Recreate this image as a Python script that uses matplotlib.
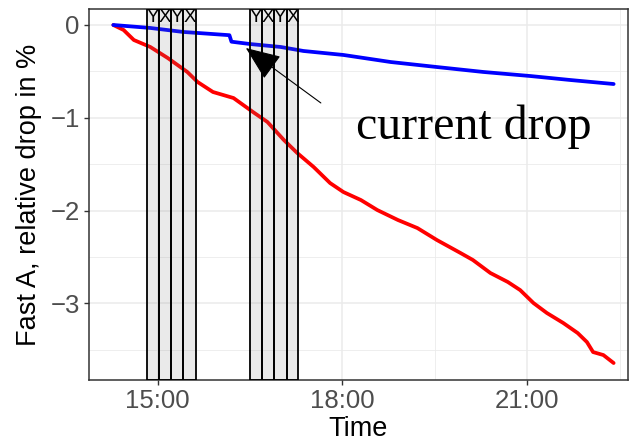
import pandas as pd
import numpy as np
import matplotlib
matplotlib.use("Agg")
import matplotlib.pyplot as plt
import matplotlib.dates as mdates

day = "2020-01-01 "

# red curve
red_time = ["14:17", "14:27", "14:37", "14:53", "15:10", "15:29", "15:39", "15:54",
            "16:14", "16:33", "16:47", "17:03", "17:16", "17:32", "17:48", "18:01",
            "18:18", "18:34", "18:54", "19:13", "19:32", "19:55", "20:07", "20:24",
            "20:41", "20:53", "21:06", "21:19", "21:35", "21:49", "21:58", "22:04",
            "22:14", "22:24"]
red_drop = [0.0, -0.054, -0.162, -0.237, -0.356, -0.506, -0.614, -0.722,
            -0.787, -0.938, -1.045, -1.239, -1.379, -1.530, -1.703, -1.800,
            -1.886, -1.994, -2.101, -2.188, -2.317, -2.457, -2.532, -2.672,
            -2.769, -2.856, -2.996, -3.103, -3.211, -3.319, -3.416, -3.524,
            -3.556, -3.642]

# blue curve
blue_time = ["14:17", "14:53", "15:25", "16:10", "16:12", "16:30", "17:00", "17:22",
             "18:01", "18:47", "19:32", "20:17", "21:03", "21:42", "22:24"]
blue_drop = [0.0, -0.032, -0.075, -0.110, -0.180, -0.205, -0.237, -0.280,
             -0.323, -0.399, -0.453, -0.506, -0.550, -0.593, -0.636]

# shaded intervals
span_start = ["14:50", "15:01", "15:13", "15:25", "16:30", "16:42", "16:53", "17:06"]
span_end = ["15:01", "15:13", "15:25", "15:37", "16:42", "16:53", "17:06", "17:17"]
span_label = ["Y", "X", "Y", "X", "Y", "X", "Y", "X"]

tick_time = ["15:00", "18:00", "21:00"]
minor_time = ["16:30", "19:30", "22:30"]


def tt(s):
    return pd.to_datetime(day + s)


fig = plt.figure(figsize=(6.32, 4.43), dpi=100)
ax = fig.add_axes([0.1403, 0.1422, 0.8534, 0.8368])

sans = "Liberation Sans"
ylo, yhi = -3.825, 0.169

ax.plot([tt(t) for t in red_time], red_drop, color="#ff0000", lw=2.7, zorder=2,
        solid_capstyle="round")
ax.plot([tt(t) for t in blue_time], blue_drop, color="#0000ff", lw=2.7, zorder=2,
        solid_capstyle="round")

for s, e, lab in zip(span_start, span_end, span_label):
    ax.axvspan(tt(s), tt(e), facecolor=(0.5, 0.5, 0.5, 0.16), edgecolor="black",
               lw=1.3, zorder=3)
    mid = tt(s) + (tt(e) - tt(s)) / 2
    ax.text(mid, yhi, lab, ha="center", va="top", fontsize=13.5, family=sans,
            zorder=4)

ax.annotate("", xy=(tt("16:26"), -0.248), xytext=(tt("17:39"), -0.84),
            arrowprops=dict(arrowstyle="-|>,head_length=1.1,head_width=0.45",
                            mutation_scale=20, color="black", lw=0.8,
                            shrinkA=0, shrinkB=0), zorder=5)
ax.text(tt("20:08"), -1.225, "current drop", ha="center", va="baseline",
        fontsize=34.5, family="Liberation Serif", zorder=5)

ax.set_xticks([tt(t) for t in tick_time])
ax.set_xticks([tt(t) for t in minor_time], minor=True)
ax.xaxis.set_major_formatter(mdates.DateFormatter("%H:%M"))
ax.set_yticks([0, -1, -2, -3])
ax.set_yticklabels(["0", "\u22121", "\u22122", "\u22123"])
ax.set_yticks([-0.5, -1.5, -2.5, -3.5], minor=True)

# limits after the ticks, otherwise set_xticks widens them
ax.set_xlim(tt("13:53"), tt("22:38"))
ax.set_ylim(ylo, yhi)

ax.grid(True, which="major", color="#ebebeb", lw=1.1, zorder=0)
ax.grid(True, which="minor", color="#ebebeb", lw=0.6, zorder=0)
ax.set_axisbelow(True)

for sp in ax.spines.values():
    sp.set_color("#333333")
    sp.set_linewidth(1.1)

ax.tick_params(which="major", length=3.5, width=1.0, color="#333333",
               labelsize=18.5, labelcolor="#4d4d4d", pad=3)
ax.tick_params(which="minor", length=0)
for lbl in ax.get_xticklabels() + ax.get_yticklabels():
    lbl.set_family(sans)

ax.set_xlabel("Time", fontsize=19.5, family=sans, labelpad=2)
ax.set_ylabel("Fast A, relative drop in %", fontsize=19.5, family=sans, labelpad=6)

fig.savefig("out.png", dpi=100)
